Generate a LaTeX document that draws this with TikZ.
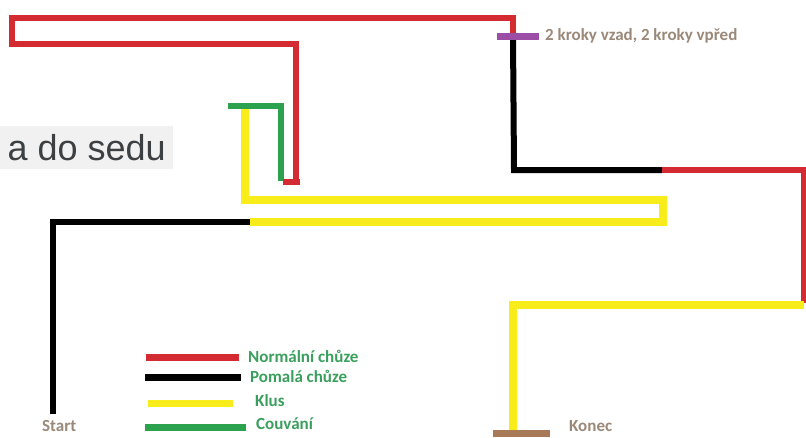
\documentclass[tikz,border=0pt]{standalone}
\usepackage{fontspec}
\setmainfont{Carlito}
\newfontfamily\notefont{Liberation Sans}
\usetikzlibrary{positioning,calc}

\definecolor{trackred}{HTML}{D42A32}
\definecolor{trackyellow}{HTML}{F8EC1A}
\definecolor{trackgreen}{HTML}{2CA24E}
\definecolor{trackpurple}{HTML}{9C4EA6}
\definecolor{trackbrown}{HTML}{A87A5A}
\definecolor{labelbrown}{HTML}{9A8878}
\definecolor{legendgreen}{HTML}{3A9E5C}
\definecolor{notegray}{HTML}{3C4043}
\definecolor{notebg}{HTML}{F1F1F1}

\begin{document}
\begin{tikzpicture}[x=1pt, y=-1pt, line join=miter]
  \tikzstyle{normal}=[draw=trackred, line width=6.5pt]
  \tikzstyle{slow}=[draw=black, line width=6pt]
  \tikzstyle{trot}=[draw=trackyellow, line width=7.5pt]
  \tikzstyle{back}=[draw=trackgreen, line width=6pt]
  \tikzstyle{bar}=[line width=7pt]
  \tikzstyle{place}=[font=\bfseries\fontsize{17}{17}\selectfont, text=labelbrown, anchor=west, inner sep=0pt]
  \tikzstyle{legend}=[font=\bfseries\fontsize{17}{17}\selectfont, text=legendgreen, anchor=west, inner sep=0pt]
  \useasboundingbox (0,0) rectangle (806,437);

  % corners of the track
  \coordinate (start) at (53,414);
  \coordinate (s1) at (53,222);
  \coordinate (s2) at (250,222);
  \coordinate (y1) at (663,222);
  \coordinate (y2) at (663,200);
  \coordinate (y3) at (245,200);
  \coordinate (y4) at (245,109);
  \coordinate (g1) at (228,106);
  \coordinate (g2) at (281,106);
  \coordinate (g3) at (281,181);
  \coordinate (r0) at (296,183);
  \coordinate (r1) at (296,44);
  \coordinate (r2) at (12,44);
  \coordinate (r3) at (12,18);
  \coordinate (r4) at (513,18);
  \coordinate (turn) at (513,36);
  \coordinate (b1) at (514,170);
  \coordinate (b2) at (662,170);
  \coordinate (r5) at (804,170);
  \coordinate (r6) at (804,303);
  \coordinate (y5) at (804,305);
  \coordinate (y6) at (513,305);
  \coordinate (finish) at (513,431);

  \draw[slow] (start) -- (s1) -- (s2);
  \draw[trot] (s2) -- (y1) -- (y2) -- (y3) -- (y4);
  \draw[back] (g1) -| (g3);
  \draw[normal] (283,182) -- (300,182);
  \draw[normal] (r0) -- (r1) -- (r2) -- (r3) -- (r4) -- (turn);
  \draw[slow] (turn) -- (b1) -- (b2);
  \draw[normal] (b2) -- (r5) -- (r6);
  \draw[trot] (y5) -- (y6) -- (finish);

  \draw[bar, trackpurple] (497,36) -- (539,36);
  \draw[bar, trackbrown] (493,433) -- (550,433);

  \node[place] (kroky) at (545,36) {2 kroky vzad, 2 kroky vpřed};
  \node[place] (lstart) at (42,426) {Start};
  \node[place] (lend) at (569,426) {Konec};

  \node[fill=notebg, text=notegray, font=\notefont\fontsize{36}{36}\selectfont, anchor=north west, minimum width=173pt, minimum height=43pt, inner sep=0pt] (sedu) at (0,126) {a do sedu};

  \node[legend] (lnorm) at (248,356) {Normální chůze};
  \node[legend] (lslow) at (250,376) {Pomalá chůze};
  \node[legend] (ltrot) at (255,401) {Klus};
  \node[legend] (lback) at (256,424) {Couvání};
  \draw[normal, line width=7pt] (146,357) -- (239,357);
  \draw[slow, line width=7pt] (145,377) -- (241,377);
  \draw[trot, line width=7pt] (148,403) -- (233,403);
  \draw[back, line width=7pt] (145,427) -- (246,427);
\end{tikzpicture}
\end{document}
